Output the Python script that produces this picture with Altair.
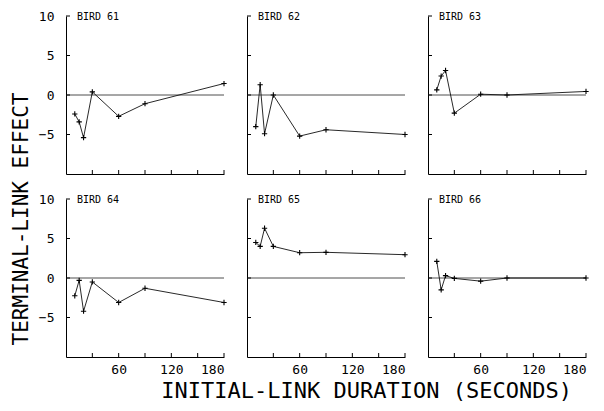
import altair as alt
import pandas as pd

x_sec = [10, 15, 20, 30, 60, 90, 180]
birds = ["BIRD 61", "BIRD 62", "BIRD 63", "BIRD 64", "BIRD 65", "BIRD 66"]
bird61 = [-2.4, -3.4, -5.4, 0.4, -2.7, -1.1, 1.45]
bird62 = [-4.0, 1.3, -4.9, 0.0, -5.2, -4.4, -5.0]
bird63 = [0.65, 2.4, 3.1, -2.3, 0.1, 0.0, 0.45]
bird64 = [-2.25, -0.3, -4.2, -0.5, -3.1, -1.3, -3.1]
bird65 = [4.5, 4.0, 6.3, 4.0, 3.2, 3.25, 2.95]
bird66 = [2.1, -1.5, 0.3, -0.05, -0.4, 0.0, 0.0]
series = [bird61, bird62, bird63, bird64, bird65, bird66]

y_ticks = [-5, 0, 5, 10]
x_ticks = [30, 60, 90, 120, 150, 180]
x_labels = [60, 120, 180]

FONT = "DejaVu Sans Mono"
W, H = 158, 158

xs = alt.Scale(domain=[0, 180], nice=False, zero=False)
ys = alt.Scale(domain=[-10, 10], nice=False, zero=False)


def panel(i):
    row, col = divmod(i, 3)
    df = pd.DataFrame({"x": x_sec, "y": series[i]})
    base = alt.Chart(df)
    xaxis = alt.Axis(values=x_labels, labels=(row == 1), ticks=False, grid=False,
                     title=None, domainColor="black", domainWidth=1,
                     labelFont=FONT, labelFontSize=13, labelPadding=6,
                     labelColor="black")
    yaxis = alt.Axis(values=y_ticks, labels=(col == 0), ticks=False, grid=False,
                     title=None, domainColor="black", domainWidth=1,
                     labelFont=FONT, labelFontSize=13, labelPadding=12,
                     labelColor="black")
    line = base.mark_line(color="#111", strokeWidth=0.9).encode(
        x=alt.X("x:Q", scale=xs, axis=xaxis),
        y=alt.Y("y:Q", scale=ys, axis=yaxis),
    )
    pts = base.mark_point(shape="M-1,0L1,0M0,-1L0,1", filled=False, size=28,
                          color="black", strokeWidth=1.1, opacity=1).encode(
        x=alt.X("x:Q", scale=xs), y=alt.Y("y:Q", scale=ys))
    zero = alt.Chart(pd.DataFrame({"y": [0]})).mark_rule(
        color="#222", strokeWidth=0.8).encode(y=alt.Y("y:Q", scale=ys))
    yt = alt.Chart(pd.DataFrame({"y": y_ticks})).mark_rule(
        color="black", strokeWidth=1).encode(
        y=alt.Y("y:Q", scale=ys), x=alt.value(0), x2=alt.value(4))
    xt = alt.Chart(pd.DataFrame({"x": x_ticks})).mark_rule(
        color="black", strokeWidth=1).encode(
        x=alt.X("x:Q", scale=xs), y=alt.value(H), y2=alt.value(H - 4))
    lab = alt.Chart(pd.DataFrame({"t": [birds[i]]})).mark_text(
        align="left", baseline="middle", font=FONT, fontSize=10,
        color="black").encode(x=alt.value(11), y=alt.value(1), text="t:N")
    return alt.layer(zero, yt, xt, line, pts, lab).properties(width=W, height=H)


row1 = alt.hconcat(panel(0), panel(1), panel(2), spacing=17)
row2 = alt.hconcat(panel(3), panel(4), panel(5), spacing=17)
grid = alt.vconcat(row1, row2, spacing=18)

inner = alt.vconcat(grid).properties(
    title=alt.TitleParams("INITIAL-LINK DURATION (SECONDS)", orient="bottom",
                          anchor="middle", dx=52, font=FONT, fontSize=22,
                          fontWeight="normal", color="black", offset=5))
chart = alt.hconcat(inner).properties(
    title=alt.TitleParams("TERMINAL-LINK EFFECT", orient="left",
                          anchor="middle", dx=-13, font=FONT, fontSize=21,
                          fontWeight="normal", color="black", offset=6),
    padding={"left": 3, "top": 2, "right": 0, "bottom": 0},
).configure_view(stroke=None).configure_concat(spacing=0)

chart.save("out.html", embed_options={"renderer": "svg", "actions": False})
